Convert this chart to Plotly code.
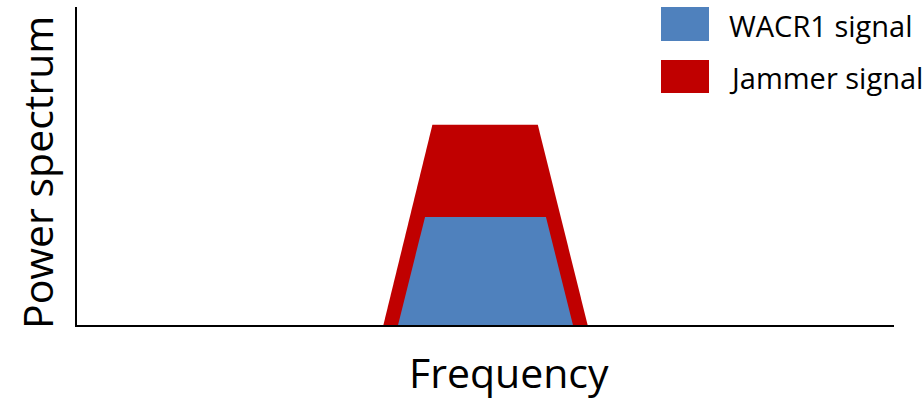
import plotly.graph_objects as go

# Data (arbitrary units)
jammer_freq = [37.5, 43.5, 56.4, 62.5]
jammer_power = [0, 63, 63, 0]
wacr_freq = [39.3, 42.6, 57.4, 60.7]
wacr_power = [0, 34, 34, 0]

legend_labels = ["WACR1 signal", "Jammer signal"]
colors = ["#4F81BD", "#C00000"]

FONT = "Open Sans"

fig = go.Figure()
fig.add_trace(go.Scatter(x=jammer_freq, y=jammer_power, fill="toself", mode="lines",
                         line=dict(width=0, color=colors[1]), fillcolor=colors[1],
                         name=legend_labels[1], hoverinfo="skip"))
fig.add_trace(go.Scatter(x=wacr_freq, y=wacr_power, fill="toself", mode="lines",
                         line=dict(width=0, color=colors[0]), fillcolor=colors[0],
                         name=legend_labels[0], hoverinfo="skip"))

L, R, T, B = 77, 894, 7, 325
W, H = 923, 399
pw, ph = R - L, B - T

def px(x):
    return (x - L) / pw

def py(y):
    return (B - y) / ph

shapes = []
annotations = []
# Legend boxes and texts
for i, (lab, col) in enumerate(zip(legend_labels, colors)):
    y0 = [7, 60][i]
    y1 = [41, 93][i]
    shapes.append(dict(type="rect", xref="paper", yref="paper",
                       x0=px(661), x1=px(709), y0=py(y1), y1=py(y0),
                       fillcolor=col, line=dict(width=0)))
    annotations.append(dict(text=lab, xref="paper", yref="paper",
                            x=px(727), y=py((y0 + y1) / 2 + 1.5),
                            xanchor="left", yanchor="middle", showarrow=False,
                            font=dict(family=FONT, size=29, color="#000000")))

annotations.append(dict(text="Frequency", xref="paper", yref="paper",
                        x=px(509), y=py(372), xanchor="center", yanchor="middle",
                        showarrow=False, borderpad=0,
                        font=dict(family=FONT, size=41, color="#000000")))
annotations.append(dict(text="Power spectrum", xref="paper", yref="paper",
                        x=px(37), y=py(173), xanchor="center", yanchor="middle",
                        textangle=-90, showarrow=False,
                        font=dict(family=FONT, size=41, color="#000000")))

fig.update_layout(
    width=W, height=H,
    margin=dict(l=L, r=W - R, t=T, b=H - B, pad=0),
    paper_bgcolor="white", plot_bgcolor="white",
    showlegend=False,
    shapes=shapes, annotations=annotations,
    xaxis=dict(range=[0, 100], showline=True, linecolor="black", linewidth=2,
               showgrid=False, zeroline=False, showticklabels=False, ticks="",
               fixedrange=True),
    yaxis=dict(range=[0, 100], showline=True, linecolor="black", linewidth=2,
               showgrid=False, zeroline=False, showticklabels=False, ticks="",
               fixedrange=True),
)

fig.write_html("out.html", config={"displayModeBar": False},
               post_script="document.body.style.margin='0';document.body.style.overflow='hidden';")
